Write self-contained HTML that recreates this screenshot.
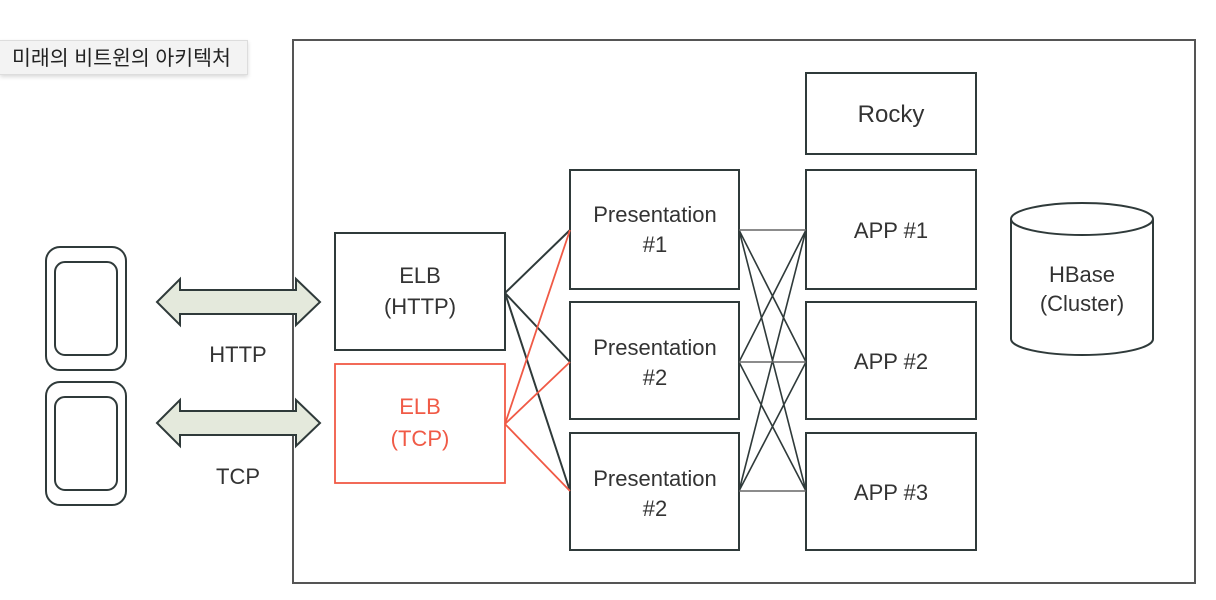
<!DOCTYPE html>
<html><head><meta charset="utf-8"><style>
html,body{margin:0;padding:0;background:#fff;width:1216px;height:600px;overflow:hidden;position:relative}
.lab{position:absolute;left:0;top:40px;width:248px;height:35px;background:#f3f3f3;border:1px solid #ddd;border-left:none;box-shadow:0 2px 4px rgba(0,0,0,.15);font:20.5px "Liberation Sans","Noto Sans CJK KR",sans-serif;color:#222;line-height:35px;padding-left:12px;box-sizing:border-box;white-space:nowrap}
svg{position:absolute;left:0;top:0}
text{font-family:"Liberation Sans",sans-serif;font-size:22px;fill:#333;text-anchor:middle}
</style></head><body>
<svg width="1216" height="600" viewBox="0 0 1216 600">
<g fill="none" stroke="#2f3a3a" stroke-width="2">
<rect x="293" y="40" width="902" height="543" stroke="#555"/>
<rect x="46" y="247" width="80" height="123" rx="14"/>
<rect x="55" y="262" width="62" height="93" rx="10"/>
<rect x="46" y="382" width="80" height="123" rx="14"/>
<rect x="55" y="397" width="62" height="93" rx="10"/>
<rect x="335" y="233" width="170" height="117"/>
<rect x="570" y="170" width="169" height="119"/>
<rect x="570" y="302" width="169" height="117"/>
<rect x="570" y="433" width="169" height="117"/>
<rect x="806" y="73" width="170" height="81"/>
<rect x="806" y="170" width="170" height="119"/>
<rect x="806" y="302" width="170" height="117"/>
<rect x="806" y="433" width="170" height="117"/>
<path d="M1011 219 V339 A71 16 0 0 0 1153 339 V219"/>
<ellipse cx="1082" cy="219" rx="71" ry="16"/>
<path d="M505 293 L570 230 M505 293 L570 362 M505 293 L570 491"/>
<path d="M739 230 L806 362 M739 230 L806 491 M739 362 L806 230 M739 362 L806 491 M739 491 L806 230 M739 491 L806 362" stroke-width="1.6"/>
<path d="M739 230 H806 M739 362 H806 M739 491 H806" stroke="#666" stroke-width="1.6"/>
</g>
<g fill="none" stroke="#f05a46" stroke-width="1.8">
<rect x="335" y="364" width="170" height="119"/>
<path d="M505 424 L570 230 M505 424 L570 362 M505 424 L570 491"/>
</g>
<g fill="#e4e9dc" stroke="#2f3a3a" stroke-width="2">
<path d="M157 302 L180 279 V290 H296 V279 L320 302 L296 325 V314 H180 V325 Z"/>
<path d="M157 423 L180 400 V411 H296 V400 L320 423 L296 446 V435 H180 V446 Z"/>
</g>
<text x="238" y="362">HTTP</text>
<text x="238" y="484">TCP</text>
<text x="420" y="283">ELB</text>
<text x="420" y="314">(HTTP)</text>
<text x="420" y="414" style="fill:#f05a46">ELB</text>
<text x="420" y="446" style="fill:#f05a46">(TCP)</text>
<text x="655" y="222">Presentation</text><text x="655" y="252">#1</text>
<text x="655" y="355">Presentation</text><text x="655" y="385">#2</text>
<text x="655" y="486">Presentation</text><text x="655" y="516">#2</text>
<text x="891" y="122" style="font-size:24px">Rocky</text>
<text x="891" y="238">APP #1</text>
<text x="891" y="369">APP #2</text>
<text x="891" y="500">APP #3</text>
<text x="1082" y="282">HBase</text>
<text x="1082" y="311">(Cluster)</text>
</svg>
<div class="lab">미래의 비트윈의 아키텍처</div>
</body></html>
